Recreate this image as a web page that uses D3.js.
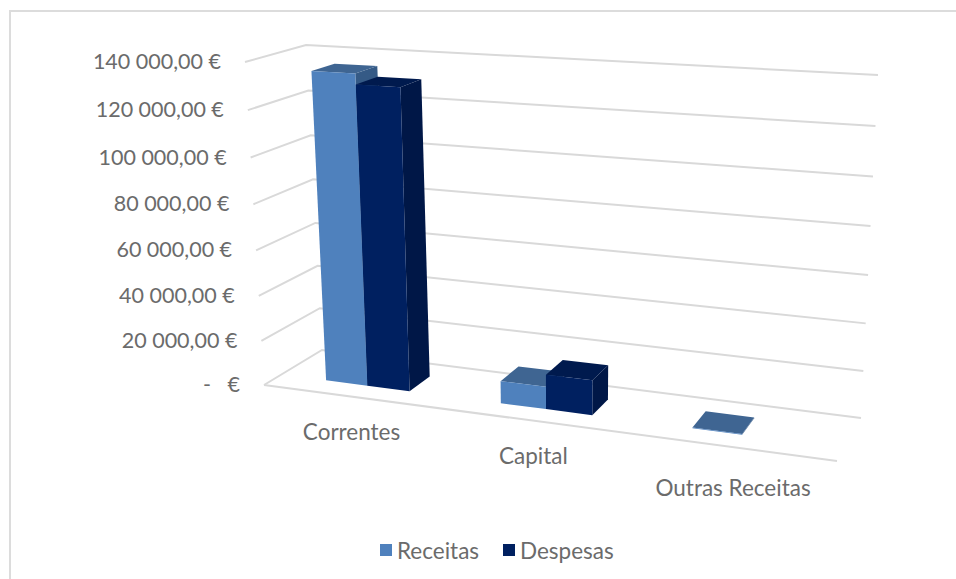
<!DOCTYPE html>
<html>
<head>
<meta charset="utf-8">
<script src="https://cdnjs.cloudflare.com/ajax/libs/d3/7.8.5/d3.min.js"></script>
<style>
    html, body { margin: 0; padding: 0; background: #fff; overflow: hidden; }
    text { font-family: Lato, "Open Sans", sans-serif; fill: #6b6b6b; font-size: 22.5px; white-space: pre; }
    text.ytick { font-size: 21.5px; }
</style>
</head>
<body>
<svg id="chart" width="956" height="579"></svg>
<script>
var categories = ["Correntes", "Capital", "Outras Receitas"];
var seriesNames = ["Receitas", "Despesas"];
var receitas = [135300, 9700, 300];
var despesas = [130800, 15000, 0];
var tickValues = [0, 20000, 40000, 60000, 80000, 100000, 120000, 140000];
var tickLabels = ["-   €", "20 000,00 €", "40 000,00 €", "60 000,00 €", "80 000,00 €", "100 000,00 €", "120 000,00 €", "140 000,00 €"];

var colors = {
    Receitas: { front: "#4f81bd", top: "#3f6592", side: "#355a86" },
    Despesas: { front: "#002060", top: "#001a4e", side: "#001747" }
};

// corners of the 3d box as they land on the screen
var floorBox = { fl: [264, 385], fr: [837, 461], bl: [322, 350], br: [861, 418] };
var topBox = { fl: [245, 62], fr: [856, 98], bl: [306, 45], br: [878, 75] };

var svg = d3.select("svg#chart");

var heightScale = d3.scaleLinear().domain([0, 140000]).range([0, 1]);
var catScale = d3.scaleBand().domain(categories).range([0, 1]).paddingInner(0.511).paddingOuter(0.2555).align(0.53);
var barScale = d3.scaleBand().domain(seriesNames).range([0, catScale.bandwidth()]);
var depthScale = d3.scaleBand().domain(["bar"]).range([0, 1]).padding(0.4286);

function mix(a, b, t) {
    return [a[0] + (b[0] - a[0]) * t, a[1] + (b[1] - a[1]) * t];
}

// foreshortening along the front edge and up the walls
function skew(t, k) {
    return t / (t + (1 - t) * k);
}

function boxPoint(box, s, v) {
    return mix(mix(box.fl, box.fr, s), mix(box.bl, box.br, s), v);
}

// u: across the categories, v: depth, value: height in euros
function project(u, v, value) {
    var s = skew(u, 1.15);
    return mix(boxPoint(floorBox, s, v), boxPoint(topBox, s, v), skew(heightScale(value), 1.05));
}

var pathLine = d3.line();

// chart frame, cut off by the window on the right and bottom
svg.append("rect")
    .attr("x", 10)
    .attr("y", 11)
    .attr("width", 1200)
    .attr("height", 1200)
    .attr("fill", "none")
    .attr("stroke", "#dcdcdc")
    .attr("stroke-width", 2);

// gridlines run along the side wall then along the back wall
svg.selectAll(".grid")
    .data(tickValues)
    .enter()
    .append("path")
    .attr("class", "grid")
    .attr("fill", "none")
    .attr("stroke", "#d9d9d9")
    .attr("stroke-width", 2)
    .attr("d", function (d) {
        return pathLine([project(0, 0, d), project(0, 1, d), project(1, 1, d)]);
    });

// floor edges
svg.append("path")
    .attr("fill", "none")
    .attr("stroke", "#d9d9d9")
    .attr("stroke-width", 2)
    .attr("d", pathLine([project(0, 0, 0), project(1, 0, 0)]));

svg.selectAll(".ytick")
    .data(tickValues)
    .enter()
    .append("text")
    .attr("class", "ytick")
    .attr("text-anchor", "end")
    .attr("dominant-baseline", "central")
    .attr("x", function (d) { return project(0, 0, d)[0] - 24; })
    .attr("y", function (d) { return project(0, 0, d)[1] - 1; })
    .text(function (d, i) { return tickLabels[i]; });

var labelDrop = [35, 35, 40];

svg.selectAll(".xlabel")
    .data(categories)
    .enter()
    .append("text")
    .attr("class", "xlabel")
    .attr("text-anchor", "middle")
    .attr("dominant-baseline", "central")
    .attr("x", function (d) { return project(catScale(d) + catScale.bandwidth() / 2, 0, 0)[0]; })
    .attr("y", function (d, i) { return project(catScale(d) + catScale.bandwidth() / 2, 0, 0)[1] + labelDrop[i]; })
    .text(function (d) { return d; });

function drawBar(cat, name, value) {
    if (value <= 0) return;
    var u0 = catScale(cat) + barScale(name);
    var u1 = u0 + barScale.bandwidth();
    var v0 = depthScale("bar");
    var v1 = v0 + depthScale.bandwidth();
    var c = colors[name];
    var g = svg.append("g").attr("class", "bar");
    // side, top and then the front face
    g.append("path").attr("fill", c.side).attr("d", pathLine([
        project(u1, v0, 0), project(u1, v1, 0), project(u1, v1, value), project(u1, v0, value)
    ]) + "Z");
    g.append("path").attr("fill", c.top).attr("d", pathLine([
        project(u0, v0, value), project(u1, v0, value), project(u1, v1, value), project(u0, v1, value)
    ]) + "Z");
    g.append("path").attr("fill", c.front).attr("d", pathLine([
        project(u0, v0, 0), project(u1, v0, 0), project(u1, v0, value), project(u0, v0, value)
    ]) + "Z");
}

categories.forEach(function (cat, i) {
    drawBar(cat, "Receitas", receitas[i]);
    drawBar(cat, "Despesas", despesas[i]);
});

// legend
var legendX = [380, 503];
seriesNames.forEach(function (name, i) {
    svg.append("rect")
        .attr("x", legendX[i])
        .attr("y", 544)
        .attr("width", 12)
        .attr("height", 12)
        .attr("fill", colors[name].front);
    svg.append("text")
        .attr("x", legendX[i] + 17)
        .attr("y", 550)
        .attr("dominant-baseline", "central")
        .text(name);
});
</script>
</body>
</html>
